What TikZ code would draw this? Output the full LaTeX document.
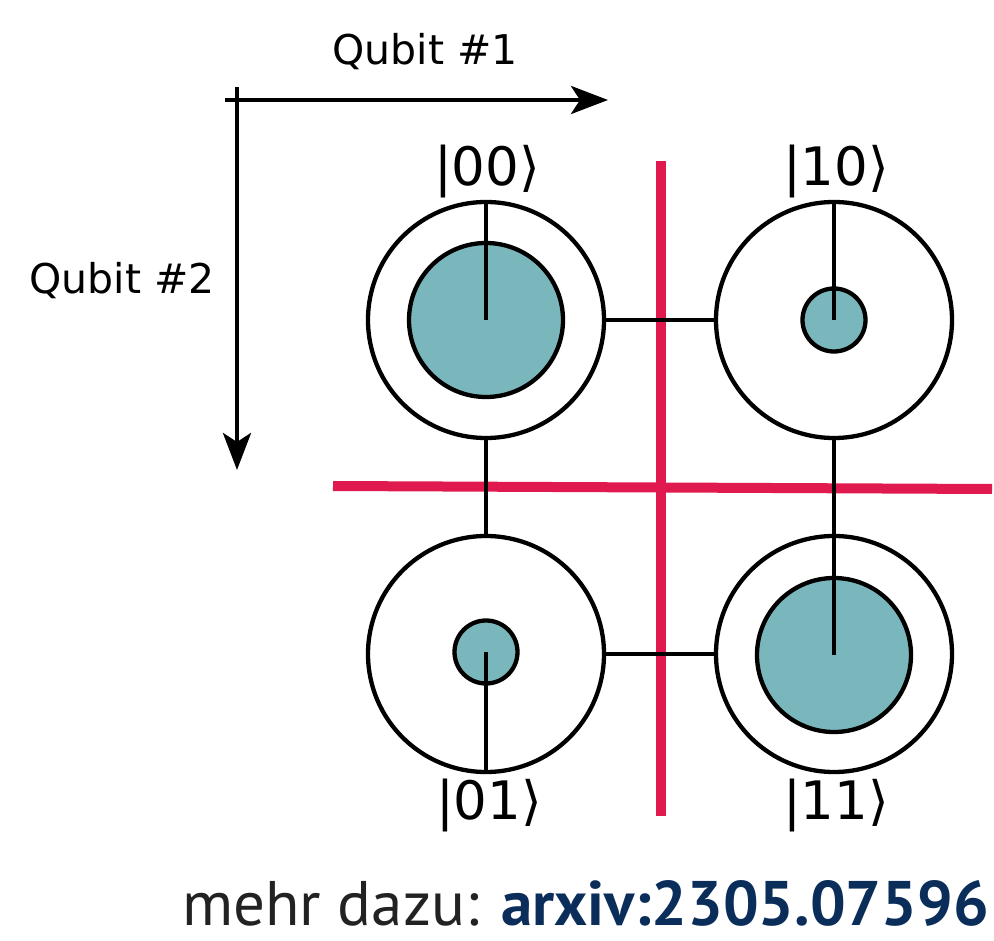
\documentclass[tikz,border=0pt]{standalone}
\usepackage{fontspec}
\setmainfont{DejaVu Sans}
\newfontfamily\notefont{PT Sans}
\usetikzlibrary{arrows.meta}

\definecolor{qteal}{RGB}{122,183,188}
\definecolor{qred}{RGB}{224,26,78}
\definecolor{qnavy}{RGB}{10,45,90}
\definecolor{qgray}{RGB}{34,34,34}

\tikzset{
  outerring/.style={circle, draw=black, line width=4.3pt, minimum size=236pt, inner sep=0pt},
  bigdot/.style={circle, draw=black, fill=qteal, line width=4.3pt, minimum size=154pt, inner sep=0pt},
  smalldot/.style={circle, draw=black, fill=qteal, line width=4.3pt, minimum size=63pt, inner sep=0pt},
  wire/.style={draw=black, line width=4.3pt},
  cut/.style={draw=qred, line width=10pt},
  axis/.style={draw=black, line width=4.3pt, -{Stealth[length=37pt, width=28pt, inset=9pt]}},
  qlabel/.style={font=\fontsize{41}{48}\selectfont, inner sep=0pt},
  ketlabel/.style={font=\fontsize{53}{60}\selectfont, inner sep=0pt},
}

\begin{document}
\begin{tikzpicture}[x=1pt, y=-1pt]
  \useasboundingbox (0,0) rectangle (994,941);

  % axes of the two qubits
  \coordinate (ax0) at (225,100);
  \coordinate (ax1) at (608,100);
  \coordinate (ay0) at (237,87);
  \coordinate (ay1) at (237,470);
  \draw[axis] (ax0) -- (ax1);
  \draw[axis] (ay0) -- (ay1);
  \node[qlabel] (q1) at (425,52) {Qubit \#1};
  \node[qlabel] (q2) at (122,281) {Qubit \#2};

  % cuts separating the qubits
  \coordinate (rv0) at (661,161);
  \coordinate (rv1) at (661,816);
  \coordinate (rh0) at (333,486);
  \coordinate (rh1) at (992,489);
  \draw[cut] (rv0) -- (rv1);
  \draw[cut] (rh0) -- (rh1);

  % basis states
  \node[outerring] (o00) at (486,320) {};
  \node[outerring] (o10) at (834,320) {};
  \node[outerring] (o01) at (486,654) {};
  \node[outerring] (o11) at (834,654) {};

  \node[bigdot]   (c00) at (486,320) {};
  \node[smalldot] (c10) at (834,320) {};
  \node[smalldot] (c01) at (486,652) {};
  \node[bigdot]   (c11) at (834,655) {};

  % couplings between neighbouring states
  \draw[wire] (o00.east) -- (o10.west);
  \draw[wire] (o01.east) -- (o11.west);
  \draw[wire] (o00.south) -- (o01.north);

  % phase pointers
  \draw[wire] (c00.center) -- (o00.north);
  \draw[wire] (c10.center) -- (o10.north);
  \draw[wire] (c01.center) -- (o01.south);
  \draw[wire] (o10.south) -- (c11.center);

  \node[ketlabel] (k00) at (487,172) {|00⟩};
  \node[ketlabel] (k10) at (836,172) {|10⟩};
  \node[ketlabel] (k01) at (489,805) {|01⟩};
  \node[ketlabel] (k11) at (836,805) {|11⟩};

  \node[anchor=base east, inner sep=0pt, font=\notefont\fontsize{63}{70}\selectfont] (ref) at (989,925)
    {\textcolor{qgray}{mehr dazu:} \textcolor{qnavy}{\bfseries arxiv:2305.07596}};
\end{tikzpicture}
\end{document}
